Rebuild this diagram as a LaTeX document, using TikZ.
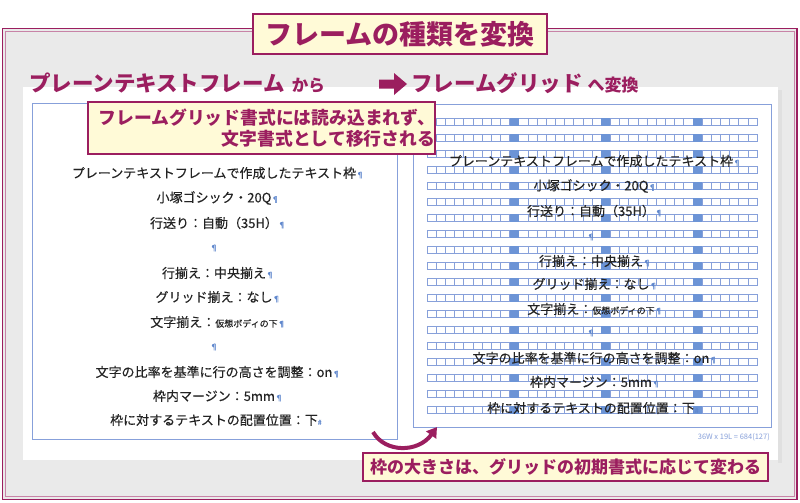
\documentclass[tikz,border=0pt]{standalone}
\usepackage{fontspec}
\setmainfont{Noto Sans CJK JP}
\newfontfamily\bodyfont{Noto Sans CJK JP}[FakeBold=0.25]
\usetikzlibrary{arrows.meta}
\definecolor{maroon}{RGB}{155,30,95}
\definecolor{cream}{RGB}{255,250,215}
\definecolor{panelgray}{RGB}{234,234,234}
\definecolor{txt}{RGB}{35,35,35}
\definecolor{gblue}{RGB}{135,160,218}
\definecolor{gfill}{RGB}{108,148,214}
\definecolor{pblue}{RGB}{95,135,205}
\newcommand{\pil}{\rlap{\fontsize{8}{8}\selectfont\color{pblue}¶}}
\newcommand{\eos}{\rlap{\fontsize{7}{7}\selectfont\color{pblue}\textit{\#}}}
\newcommand{\smalltxt}[1]{{\fontsize{9}{9}\selectfont #1}}
\begin{document}
\begin{tikzpicture}[x=1pt,y=-1pt,
  body/.style={font=\bodyfont\fontsize{13}{13}\selectfont, text=txt, inner sep=0pt},
  head/.style={font=\bfseries, text=maroon, inner sep=0pt, anchor=west},
  callout/.style={draw=maroon, line width=1.5pt, fill=cream, text=maroon, font=\bfseries, inner sep=0pt},
  framebox/.style={draw=gblue, line width=0.6pt},
  gridcell/.style={draw=gblue, line width=0.5pt}]
\useasboundingbox (0,0) rectangle (800,503);
\fill[white] (0,0) rectangle (800,503);
% outer frame
\draw[maroon, line width=1.6pt, fill=panelgray] (2.5,28.5) rectangle (797,499.5);
\draw[maroon!55, line width=0.5pt] (5.5,31.5) rectangle (794,496.5);
% white panel
\fill[black!12] (778,90) rectangle (782,463);
\fill[white] (23,87) rectangle (778,460);
% frames
\draw[framebox] (32,103) rectangle (397,439);
\draw[framebox] (413,104) rectangle (771,427);
% grid
\foreach \r in {0,...,18}{
  \foreach \c in {0,...,35}
    \draw[gridcell] ({427+9.1667*\c},{118+16*\r}) rectangle ++(9.1667,7.5);
  \foreach \c in {9,19,29}
    \fill[gfill] ({427+9.1667*\c},{118+16*\r}) rectangle ++(9.1667,7.5);
}
% title
\node[callout, minimum width=294pt, minimum height=40pt, font=\bfseries\fontsize{27}{27}\selectfont] (title) at (400,34) {フレームの種類を変換};
% headers
\node[head] (lhead) at (29,83) {{\fontsize{21.5}{21.5}\selectfont プレーンテキストフレーム}\hspace{7pt}{\fontsize{16.5}{16.5}\selectfont から}};
\fill[maroon] (379,79.5) -- (394,79.5) -- (394,73) -- (407,84) -- (394,95) -- (394,88.5) -- (379,88.5) -- cycle;
\node[head] (rhead) at (411,83) {{\fontsize{21.5}{21.5}\selectfont フレームグリッド}\hspace{5pt}{\fontsize{17}{17}\selectfont へ変換}};
% left frame text
\node[body] (l1) at (214,173) {プレーンテキストフレームで作成したテキスト枠\pil};
\node[body] (l2) at (214,198) {小塚ゴシック・20Q\pil};
\node[body] (l3) at (214,223) {行送り：自動（35H）\pil};
\node[body] (l4) at (214,248) {\fontsize{8}{8}\selectfont\color{pblue}¶};
\node[body] (l5) at (214,273) {行揃え：中央揃え\pil};
\node[body] (l6) at (214,297) {グリッド揃え：なし\pil};
\node[body] (l7) at (214,322) {文字揃え：\smalltxt{仮想ボディの下}\pil};
\node[body] (l8) at (214,347) {\fontsize{8}{8}\selectfont\color{pblue}¶};
\node[body] (l9) at (214,372) {文字の比率を基準に行の高さを調整：on\pil};
\node[body] (l10) at (214,396) {枠内マージン：5mm\pil};
\node[body] (l11) at (214,420) {枠に対するテキストの配置位置：下\eos};
% right frame text
\node[body] (r1) at (591,161) {プレーンテキストフレームで作成したテキスト枠\pil};
\node[body] (r2) at (591,186) {小塚ゴシック・20Q\pil};
\node[body] (r3) at (591,211) {行送り：自動（35H）\pil};
\node[body] (r4) at (591,237) {\fontsize{8}{8}\selectfont\color{pblue}¶};
\node[body] (r5) at (591,261) {行揃え：中央揃え\pil};
\node[body] (r6) at (591,284) {グリッド揃え：なし\pil};
\node[body] (r7) at (591,309) {文字揃え：\smalltxt{仮想ボディの下}\pil};
\node[body] (r8) at (591,333) {\fontsize{8}{8}\selectfont\color{pblue}¶};
\node[body] (r9) at (591,358) {文字の比率を基準に行の高さを調整：on\pil};
\node[body] (r10) at (591,382) {枠内マージン：5mm\pil};
\node[body] (r11) at (591,408) {枠に対するテキストの配置位置：下\eos};
\node[inner sep=0pt, anchor=east, text=gblue, font=\fontsize{7.5}{7.5}\selectfont] (count) at (770,437) {36W x 19L = 684(127)};
% callouts
\node[callout, text width=347pt, align=right, minimum height=52pt, font=\bfseries\fontsize{17.8}{21}\selectfont] (c1) at (261.5,128) {フレームグリッド書式には読み込まれず、\\文字書式として移行される};
\node[callout, minimum width=405pt, minimum height=28pt, font=\bfseries\fontsize{17}{17}\selectfont] (c2) at (565.5,467) {枠の大きさは、グリッドの初期書式に応じて変わる};
% curved arrow
\coordinate (as) at (373,432);
\coordinate (ae) at (437,427);
\draw[maroon, line width=4pt, -{Triangle[length=10pt,width=12pt]}] (as) .. controls (385,453) and (418,453) .. (ae);
\end{tikzpicture}
\end{document}
